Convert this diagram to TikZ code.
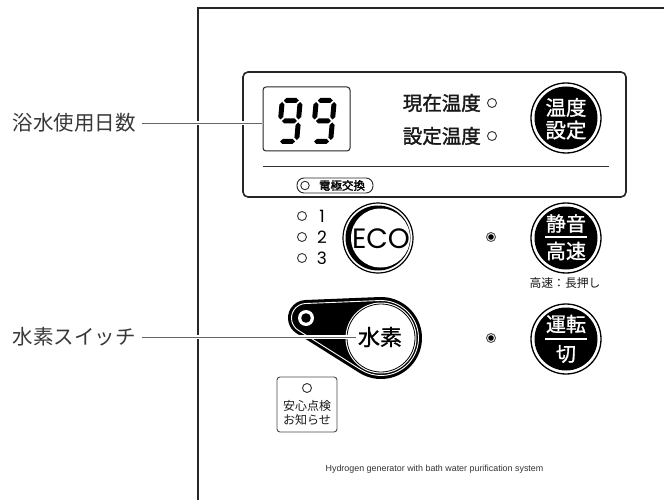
\documentclass[tikz,border=0pt]{standalone}
\usepackage{fontspec}
\newfontfamily\jp{Noto Sans CJK JP}
\newfontfamily\jpm{Noto Sans CJK JP}[FakeBold=1.6]
\newfontfamily\jpw{Noto Sans CJK JP}[FakeBold=1.0]
\newfontfamily\pop{Poppins}
\newfontfamily\lib{Liberation Sans}
\usetikzlibrary{calc}
\newcommand\fs[1]{\fontsize{#1}{#1}\selectfont}
\newcommand\dgh[3]{\fill ({#1},{#3}) -- ({#1+2.5},{#3-2.5}) -- ({#2-2.5},{#3-2.5}) -- ({#2},{#3}) -- ({#2-2.5},{#3+2.5}) -- ({#1+2.5},{#3+2.5}) -- cycle;}
\newcommand\dgv[3]{\fill ({#1},{#2}) -- ({#1+2.5},{#2+2.5}) -- ({#1+2.5},{#3-2.5}) -- ({#1},{#3}) -- ({#1-2.5},{#3-2.5}) -- ({#1-2.5},{#2+2.5}) -- cycle;}
\newcommand\dnine{\dgh{4}{19}{2.5}\dgv{20.5}{4}{21.5}\dgv{20.5}{24.5}{42}\dgh{4}{19}{43.5}\dgv{2.5}{4}{21.5}\dgh{4}{19}{23}}
\begin{document}
\begin{tikzpicture}[x=1pt,y=-1pt,
  frame/.style={draw=black!85, line width=1.3pt},
  leader/.style={draw=black!60, line width=0.9pt, preaction={draw=white, line width=4.5pt}},
  jtxt/.style={font=\jp\fs{20.5}, text=black!78, inner sep=0pt},
  btxt/.style={font=\jpm\fs{19.5}, text=black!90, inner sep=0pt},
  wtxt/.style={font=\jpw\fs{20}, text=white, inner sep=0pt},
  stxt/.style={font=\jp\fs{11.8}, text=black!90, inner sep=0pt},
  lamp/.style={circle, draw=black!80, line width=0.9pt, minimum size=9pt, inner sep=0pt},
  ring/.style={circle, draw=black, line width=1.3pt, minimum size=70pt, inner sep=0pt},
  bar/.style={draw=white, line width=2pt}
]
\fill[white] (0,0) rectangle (664,500);
\useasboundingbox (0,0) rectangle (664,500);

% outer frame
\draw[frame] (664,8) -- (198,8) -- (198,500);

% display panel
\draw[line width=1.6pt, draw=black!85, rounded corners=5pt] (243,72) rectangle (626,197);
\draw[line width=0.8pt, draw=black!80] (263,166) -- (609,166);

% left labels and leaders
\node[jtxt, anchor=east] (lblA) at (136,123) {浴水使用日数};
\node[jtxt, anchor=east] (lblB) at (136,337) {水素スイッチ};
\node[draw=black!85, line width=1pt, rounded corners=3pt, minimum width=87pt, minimum height=64pt, inner sep=0pt] (digits) at (306.5,119) {};
\draw[leader, shorten >=0.6pt] ([xshift=6pt]lblA.east) -- (lblA.east -| digits.west);

% digits 99
\begin{scope}[shift={(280,98)}, xslant=0.09]\dnine\end{scope}
\begin{scope}[shift={(314,98)}, xslant=0.09]\dnine\end{scope}

% temperature labels
\node[btxt, anchor=east] (cur) at (481,103) {現在温度};
\node[lamp] (curL) at (492,103) {};
\node[btxt, anchor=east] (set) at (481,136) {設定温度};
\node[lamp] (setL) at (492,136) {};

% electrode exchange pill
\node[draw=black!85, rounded corners=7pt, line width=0.9pt, minimum width=76pt, minimum height=15pt, inner sep=0pt] (pill) at (335,185.5) {};
\node[lamp, minimum size=8.5pt] (pillL) at (305,185.5) {};
\node[font=\jpm\fs{11.5}, inner sep=0pt] (pillT) at (342,185.5) {電極交換};

% temperature set button
\node[ring] (tbtn) at (566,118) {};
\fill (tbtn.center) circle[radius=31.5];
\node[wtxt, font=\jpw\fs{20.5}] (tbtn1) at (566,107.5) {温度};
\node[wtxt, font=\jpw\fs{20.5}] (tbtn2) at (566,130) {設定};

% ECO levels
\node[lamp] (l1) at (302,216) {};
\node[lamp] (l2) at (302,237) {};
\node[lamp] (l3) at (302,258) {};
\node[font=\pop\fs{17}, inner sep=0pt] (n1) at (322,216) {1};
\node[font=\pop\fs{17}, inner sep=0pt] (n2) at (322,237) {2};
\node[font=\pop\fs{17}, inner sep=0pt] (n3) at (322,258) {3};

% ECO button
\node[ring, line width=1.2pt] (eco) at (378,238) {};
\fill (eco.center) circle[radius=32.5];
\fill[white] ([xshift=2.5pt]eco.center) circle[radius=29.5];
\node[font=\pop\fs{28}, inner sep=0pt] (ecoT) at (381,239) {ECO};

% LEDs
\node[lamp, draw=black!70] (ledA) at (491,237) {};
\fill (ledA.center) circle[radius=2.8];
\node[lamp, draw=black!70] (ledB) at (491,338) {};
\fill (ledB.center) circle[radius=2.8];

% quiet / fast button
\node[ring] (qbtn) at (566,238) {};
\fill (qbtn.center) circle[radius=31.5];
\node[wtxt] (qbtn1) at (566,223.5) {静音};
\draw[bar] (545,237) -- (587,237);
\node[wtxt] (qbtn2) at (566,251) {高速};
\node[stxt] (qnote) at (565,283) {高速：長押し};

% run / off button
\node[ring] (rbtn) at (566,339) {};
\fill (rbtn.center) circle[radius=31.5];
\node[wtxt] (rbtn1) at (566,324) {運転};
\draw[bar] (545,339) -- (587,339);
\node[wtxt] (rbtn2) at (566,354) {切};

% hydrogen switch
\coordinate (hs) at (306,318);
\coordinate (hb) at (381,338);
\fill ($(hs)+(-92.31:18)$) -- ($(hb)+(-92.31:41)$) arc[start angle=-92.31, end angle=122.17, radius=41] -- ($(hs)+(122.17:18)$) arc[start angle=122.17, end angle=267.69, radius=18] -- cycle;
\draw[white, line width=0.9pt] ($(hs)+(-92.31:14.5)$) -- ($(hb)+(-92.31:37.5)$) arc[start angle=-92.31, end angle=122.17, radius=37.5] -- ($(hs)+(122.17:14.5)$) arc[start angle=122.17, end angle=267.69, radius=14.5] -- cycle;
\fill[white] (hb) circle[radius=35.5];
\draw[line width=0.8pt] (hb) circle[radius=34];
\fill[white] (hs) circle[radius=8];
\fill (hs) circle[radius=4.8];
\node[font=\jpw\fs{22}, inner sep=0pt] (h2t) at (380,337) {水素};
\draw[leader] ([xshift=6pt]lblB.east) -- ([xshift=-2pt]h2t.west);

% check box
\node[draw=black!70, line width=0.9pt, rounded corners=3pt, minimum width=60pt, minimum height=55pt, inner sep=0pt] (chk) at (307,404.5) {};
\node[lamp] (chkL) at (307,388) {};
\node[stxt, font=\jp\fs{12}] (chk1) at (307,405.5) {安心点検};
\node[stxt, font=\jp\fs{12}] (chk2) at (307,419.5) {お知らせ};

% caption
\node[font=\lib\fs{8.9}, text=black!80, inner sep=0pt] (cap) at (434.5,469) {Hydrogen generator with bath water purification system};
\end{tikzpicture}
\end{document}
